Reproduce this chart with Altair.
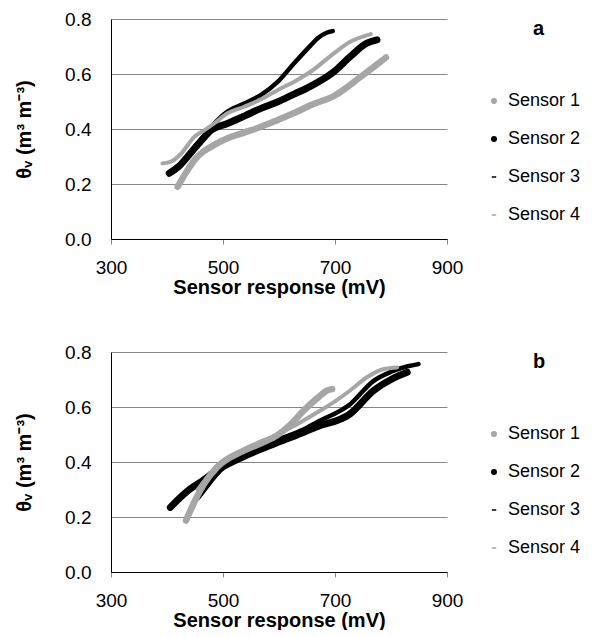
import altair as alt
import pandas as pd

sensors = ["Sensor 1", "Sensor 2", "Sensor 3", "Sensor 4"]
x_ticks = [300, 500, 700, 900]
y_ticks = [0.0, 0.2, 0.4, 0.6, 0.8]

# Panel a
a_s1_mv = [419, 435, 449, 465, 479, 508, 538, 568, 598, 627, 657, 698, 746, 770, 791]
a_s1_th = [0.19, 0.245, 0.287, 0.318, 0.336, 0.366, 0.387, 0.408, 0.433, 0.458, 0.487, 0.52, 0.59, 0.627, 0.66]
a_s2_mv = [404, 420, 437, 460, 479, 508, 538, 568, 598, 627, 657, 698, 727, 757, 775]
a_s2_th = [0.239, 0.262, 0.30, 0.355, 0.396, 0.42, 0.447, 0.475, 0.499, 0.527, 0.556, 0.608, 0.663, 0.712, 0.724]
a_s3_mv = [425, 440, 460, 480, 508, 538, 568, 598, 627, 657, 669, 685, 696]
a_s3_th = [0.272, 0.31, 0.36, 0.41, 0.463, 0.493, 0.524, 0.572, 0.639, 0.705, 0.73, 0.75, 0.756]
a_s4_mv = [392, 407, 425, 449, 467, 484, 508, 538, 568, 598, 627, 657, 698, 727, 764]
a_s4_th = [0.275, 0.281, 0.31, 0.372, 0.396, 0.42, 0.457, 0.481, 0.508, 0.542, 0.572, 0.609, 0.675, 0.717, 0.745]

# Panel b
b_s1_mv = [434, 450, 466, 489, 537, 570, 596, 620, 644, 670, 686, 695]
b_s1_th = [0.187, 0.26, 0.32, 0.38, 0.441, 0.47, 0.496, 0.535, 0.587, 0.635, 0.66, 0.665]
b_s2_mv = [406, 418, 440, 462, 489, 537, 596, 640, 668, 727, 769, 800, 829]
b_s2_th = [0.235, 0.26, 0.30, 0.33, 0.37, 0.42, 0.47, 0.505, 0.528, 0.575, 0.66, 0.70, 0.726]
b_s3_mv = [456, 475, 495, 537, 596, 640, 668, 727, 769, 800, 830, 849]
b_s3_th = [0.27, 0.32, 0.368, 0.428, 0.48, 0.515, 0.545, 0.61, 0.695, 0.728, 0.748, 0.756]
b_s4_mv = [455, 470, 489, 537, 596, 630, 668, 698, 727, 757, 787, 811]
b_s4_th = [0.30, 0.34, 0.385, 0.445, 0.50, 0.535, 0.58, 0.618, 0.66, 0.708, 0.738, 0.744]


def frame(series):
    parts = []
    for name, mv, th in series:
        parts.append(pd.DataFrame({"sensor": name, "mv": mv, "theta": th}))
    return pd.concat(parts, ignore_index=True)


df_a = frame([("Sensor 1", a_s1_mv, a_s1_th), ("Sensor 2", a_s2_mv, a_s2_th),
              ("Sensor 3", a_s3_mv, a_s3_th), ("Sensor 4", a_s4_mv, a_s4_th)])
df_b = frame([("Sensor 1", b_s1_mv, b_s1_th), ("Sensor 2", b_s2_mv, b_s2_th),
              ("Sensor 3", b_s3_mv, b_s3_th), ("Sensor 4", b_s4_mv, b_s4_th)])

GRAY = "#a6a6a6"
colors = [GRAY, "#000000", "#000000", GRAY]
widths = [6.5, 7, 4.5, 4]
draw_order = [1, 2, 0, 3]  # black curves first, grey curves on top
color_scale = alt.Scale(domain=sensors, range=colors)
shape_scale = alt.Scale(domain=sensors, range=["circle", "circle", "stroke", "stroke"])
FONT = "Liberation Sans"


def panel(df, label):
    leg = alt.Legend(title="\u00a0\u00a0" + label, orient="right", offset=38, padding=0,
                     titleFont=FONT, titleFontSize=20, titleFontWeight="bold",
                     titleColor="black", titleAnchor="middle", titleAlign="left",
                     titlePadding=53,
                     labelFont=FONT, labelFontSize=18, labelColor="black",
                     labelOffset=5, rowPadding=20, symbolSize=20,
                     symbolStrokeWidth=1.5, symbolOpacity=1)
    x = alt.X("mv:Q", scale=alt.Scale(domain=[300, 900]),
              axis=alt.Axis(values=x_ticks, title="Sensor response (mV)", grid=False,
                            ticks=True, tickSize=5, tickColor="#868686", labelFlush=False,
                            domainColor="black", labelPadding=14, titlePadding=0))
    y = alt.Y("theta:Q", scale=alt.Scale(domain=[0, 0.8]),
              axis=alt.Axis(values=y_ticks, format=".1f", title="θᵥ (m³ m⁻³)",
                            grid=True, gridColor="#868686", ticks=False, labelFlush=False,
                            domainColor="black", labelPadding=20, titlePadding=30))
    pts = alt.Chart(df).mark_point(size=10, strokeWidth=1).encode(
        x=x, y=y,
        fill=alt.Fill("sensor:N", scale=color_scale, legend=leg),
        stroke=alt.Stroke("sensor:N", scale=color_scale, legend=leg),
        shape=alt.Shape("sensor:N", scale=shape_scale, legend=leg),
    )
    layers = [pts]
    for i in draw_order:
        layers.append(
            alt.Chart(df).transform_filter(alt.datum.sensor == sensors[i]).mark_line(
                strokeCap="round", strokeJoin="round", interpolate="monotone",
                color=colors[i], strokeWidth=widths[i]).encode(x=x, y=y)
        )
    return alt.layer(*layers).properties(width=336, height=220)


chart = alt.vconcat(panel(df_a, "a"), panel(df_b, "b"), spacing=46).resolve_scale(
    fill="independent", stroke="independent", shape="independent"
).properties(
    padding={"left": 6, "top": 2, "right": 0, "bottom": 0}
).configure_view(stroke=None).configure_axis(
    labelFont=FONT, labelFontSize=19, labelColor="black",
    titleFont=FONT, titleFontSize=20, titleFontWeight="bold", titleColor="black",
)

chart.save("out.html", embed_options={"renderer": "svg", "actions": False})
